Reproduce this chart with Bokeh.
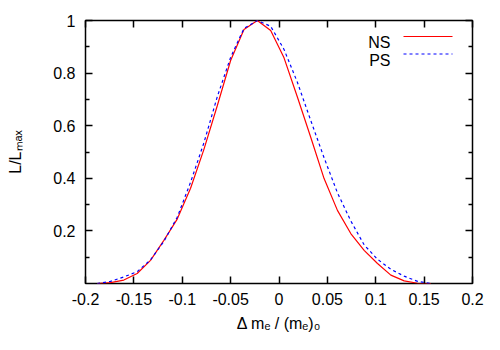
from bokeh.plotting import figure
from bokeh.models import (Range1d, FixedTicker, LinearAxis, Label, Arrow,
                          CustomJSTickFormatter)
from bokeh.embed import file_html
from bokeh.resources import INLINE

# ---------------- data ----------------
x_vals = [-0.188, -0.1742, -0.1604, -0.1466, -0.1328, -0.119, -0.1052, -0.0914,
          -0.0776, -0.0638, -0.05, -0.0362, -0.0224, -0.0086, 0.0052, 0.019,
          0.0328, 0.0466, 0.0604, 0.0742, 0.088, 0.1018, 0.1156, 0.1294,
          0.1432, 0.157]
ns_vals = [0.0, 0.003, 0.013, 0.038, 0.088, 0.164, 0.245, 0.362,
           0.51, 0.676, 0.848, 0.966, 1.0, 0.962, 0.858, 0.709,
           0.556, 0.399, 0.278, 0.19, 0.126, 0.076, 0.032, 0.010,
           0.001, 0.0]
ps_vals = [0.0, 0.008, 0.025, 0.045, 0.09, 0.16, 0.252, 0.385,
           0.535, 0.71, 0.86, 0.97, 1.0, 0.978, 0.89, 0.765,
           0.62, 0.478, 0.345, 0.238, 0.147, 0.092, 0.054, 0.028,
           0.008, 0.0]
series_names = ["NS", "PS"]
series_colors = ["#ff0000", "#0000ff"]
x_ticks = [-0.2, -0.15, -0.1, -0.05, 0.0, 0.05, 0.1, 0.15, 0.2]
y_ticks = [0.2, 0.4, 0.6, 0.8, 1.0]
y_minor = [0.1, 0.3, 0.5, 0.7, 0.9]
x_title = "Δ mₑ / (mₑ)₀"
y_title = "L/Lₘₐₓ"

# ---------------- layout ----------------
FONT = "Liberation Sans"
TICK_FS = 16
LAB_FS = 16
FW, FH = 387, 263
LEFT, TOP, RIGHT, BOTTOM = 85, 20, 20, 59

p = figure(frame_width=FW, frame_height=FH,
           x_range=Range1d(-0.2, 0.2), y_range=Range1d(0.0, 1.0),
           output_backend="svg", toolbar_location=None,
           min_border_left=LEFT, min_border_top=TOP,
           min_border_right=RIGHT, min_border_bottom=BOTTOM,
           background_fill_color="white", border_fill_color="white")
p.grid.visible = False
p.outline_line_color = "black"
p.outline_line_width = 1.5
p.outline_line_alpha = 1.0

fmt = CustomJSTickFormatter(code="return tick.toString();")
blank = CustomJSTickFormatter(code="return '';")


def style_axis(ax):
    ax.axis_line_color = None
    ax.major_tick_in = 7
    ax.major_tick_out = 0
    ax.minor_tick_in = 4
    ax.minor_tick_out = 0
    ax.major_tick_line_color = "black"
    ax.minor_tick_line_color = "black"
    ax.major_tick_line_width = 1.5
    ax.minor_tick_line_width = 1.5
    ax.major_label_text_font = FONT
    ax.major_label_text_font_size = f"{TICK_FS}px"
    ax.major_label_text_color = "black"
    ax.axis_label_text_font = FONT
    ax.axis_label_text_font_size = f"{LAB_FS}px"
    ax.axis_label_text_font_style = "normal"
    ax.axis_label_text_color = "black"


xb = p.xaxis[0]
xb.ticker = FixedTicker(ticks=x_ticks)
xb.formatter = fmt
style_axis(xb)
xb.major_label_standoff = 9
xb.axis_label = x_title
xb.axis_label_standoff = 7

yl = p.yaxis[0]
yl.ticker = FixedTicker(ticks=y_ticks, minor_ticks=y_minor)
yl.formatter = fmt
style_axis(yl)
yl.major_label_standoff = 10
yl.axis_label = y_title
yl.axis_label_standoff = 26

xt = LinearAxis(ticker=FixedTicker(ticks=x_ticks), formatter=blank)
style_axis(xt)
p.add_layout(xt, "above")
yr = LinearAxis(ticker=FixedTicker(ticks=y_ticks, minor_ticks=y_minor), formatter=blank)
style_axis(yr)
p.add_layout(yr, "right")

# ---------------- curves ----------------
p.line(x_vals, ns_vals, line_color=series_colors[0], line_width=1.2)
p.line(x_vals, ps_vals, line_color=series_colors[1], line_width=1.2, line_dash="3 3")


# ---------------- legend (text left of the samples, gnuplot style) ----------------
def sx(fx):
    return fx - LEFT


def sy(fy):
    return (TOP + FH) - fy


leg_rows = [(42.0, 36.0, None), (59.5, 53.5, "3 3")]
for (tb, ly, dash), name, col in zip(leg_rows, series_names, series_colors):
    p.add_layout(Label(x=sx(390), y=sy(tb), x_units="screen", y_units="screen",
                       text=name, text_font=FONT, text_font_size=f"{TICK_FS}px",
                       text_color="black", text_align="right",
                       text_baseline="alphabetic"))
    kw = dict(line_dash=dash) if dash else {}
    p.add_layout(Arrow(end=None, start=None, x_start=sx(403), y_start=sy(ly),
                       x_end=sx(452), y_end=sy(ly), start_units="screen",
                       end_units="screen", line_color=col, line_width=1.2, **kw))

open("out.html", "w").write(file_html(p, INLINE))
